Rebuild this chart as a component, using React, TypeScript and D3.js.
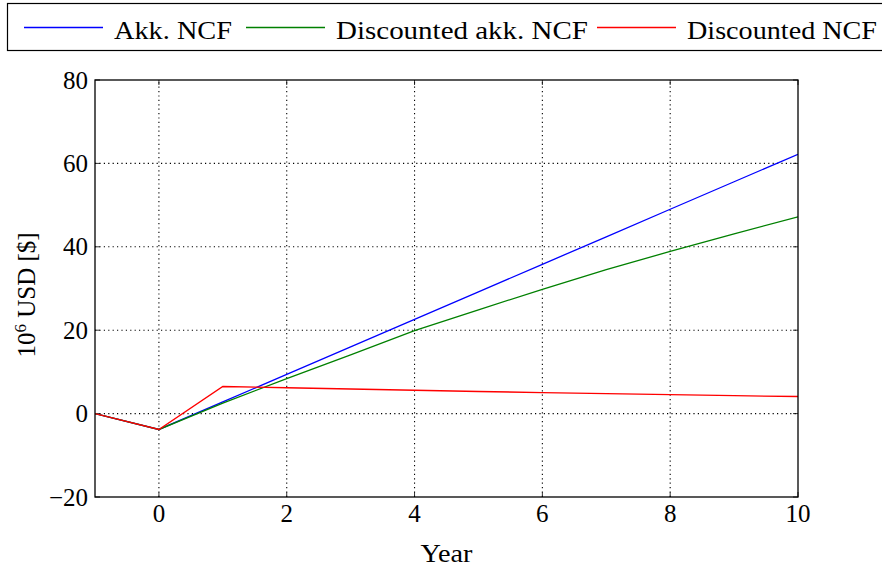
import React from "react";
import * as d3 from "d3";

const years = [-1, 0, 1, 2, 3, 4, 5, 6, 7, 8, 9, 10];
const akkNcf = [0, -3.8, 2.8, 9.4, 16.0, 22.6, 29.2, 35.8, 42.4, 49.0, 55.6, 62.2];
const discAkkNcf = [0, -3.8, 2.5, 8.4, 14.1, 19.9, 24.9, 29.8, 34.5, 38.9, 43.1, 47.2];
const discNcf = [0, -3.8, 6.5, 6.2, 5.9, 5.6, 5.3, 5.05, 4.8, 4.55, 4.3, 4.1];

const xTicks = [0, 2, 4, 6, 8, 10];
const yTicks = [-20, 0, 20, 40, 60, 80];

const series = [
  { name: "Akk. NCF", values: akkNcf, color: "#0000ff" },
  { name: "Discounted akk. NCF", values: discAkkNcf, color: "#008000" },
  { name: "Discounted NCF", values: discNcf, color: "#ff0000" },
];

const W = 882;
const H = 568;
const m = { left: 95, right: 84, top: 80, bottom: 71 };
const font = "'Liberation Serif', serif";
const fs = 25;

// legend layout: line start, text start, text width (CM is wider than Times)
const legendPos = [
  { lx: 24, tx: 114, tw: 118 },
  { lx: 246, tx: 336, tw: 252 },
  { lx: 597, tx: 687, tw: 190 },
];

const App = () => {
  const x = d3.scaleLinear().domain([-1, 10]).range([m.left, W - m.right]);
  const y = d3.scaleLinear().domain([-20, 80]).range([H - m.bottom, m.top]);
  const line = d3
    .line<number>()
    .x((_, i) => x(years[i]))
    .y((d) => y(d));

  const x0 = x(-1), x1 = x(10), y0 = y(-20), y1 = y(80);

  return (
    <svg
      width={W}
      height={H}
      style={{ position: "absolute", left: 0, top: 0, background: "#fff" }}
      fontFamily={font}
    >
      {/* grid */}
      {xTicks.filter((t) => t < 10).map((t) => (
        <line key={"gx" + t} x1={x(t)} x2={x(t)} y1={y0} y2={y1}
          stroke="#000" strokeWidth={1.1} strokeDasharray="1.2 3.2" />
      ))}
      {yTicks.filter((t) => t > -20 && t < 80).map((t) => (
        <line key={"gy" + t} x1={x0} x2={x1} y1={y(t)} y2={y(t)}
          stroke="#000" strokeWidth={1.1} strokeDasharray="1.2 3.2" />
      ))}

      {/* ticks inside */}
      {xTicks.map((t) => (
        <g key={"tx" + t}>
          <line x1={x(t)} x2={x(t)} y1={y0} y2={y0 - 5} stroke="#000" strokeWidth={0.8} />
          <line x1={x(t)} x2={x(t)} y1={y1} y2={y1 + 5} stroke="#000" strokeWidth={0.8} />
          <text x={x(t)} y={y0 + 24.5} fontSize={fs} textAnchor="middle">{t}</text>
        </g>
      ))}
      {yTicks.map((t) => (
        <g key={"ty" + t}>
          <line x1={x0} x2={x0 + 5} y1={y(t)} y2={y(t)} stroke="#000" strokeWidth={0.8} />
          <line x1={x1} x2={x1 - 5} y1={y(t)} y2={y(t)} stroke="#000" strokeWidth={0.8} />
          <text x={x0 - 7} y={y(t) + 8.5} fontSize={fs} textAnchor="end">
            {t < 0 ? "\u2212" + Math.abs(t) : t}
          </text>
        </g>
      ))}

      {/* series */}
      <defs>
        <clipPath id="clip">
          <rect x={x0} y={y1} width={x1 - x0} height={y0 - y1} />
        </clipPath>
      </defs>
      <g clipPath="url(#clip)">
        {series.map((s) => (
          <path key={s.name} d={line(s.values) ?? ""} fill="none"
            stroke={s.color} strokeWidth={1.3} />
        ))}
      </g>

      {/* frame */}
      <rect x={x0} y={y1} width={x1 - x0} height={y0 - y1} fill="none"
        stroke="#000" strokeWidth={1.3} />

      {/* axis labels */}
      <text x={(x0 + x1) / 2} y={562} fontSize={fs} textAnchor="middle"
        textLength={52} lengthAdjust="spacingAndGlyphs">Year</text>
      <text transform={`translate(35,295) rotate(-90)`}
        fontSize={fs} textAnchor="middle">
        10<tspan dy={-9} fontSize={17}>6</tspan>
        <tspan dy={9}> USD [$]</tspan>
      </text>

      {/* legend */}
      <rect x={7.5} y={3.5} width={W + 10} height={47} fill="#fff"
        stroke="#000" strokeWidth={1.2} />
      {series.map((s, i) => (
        <g key={"lg" + i}>
          <line x1={legendPos[i].lx} x2={legendPos[i].lx + 79} y1={27.5} y2={27.5}
            stroke={s.color} strokeWidth={1.3} />
          <text x={legendPos[i].tx} y={39} fontSize={fs}
            textLength={legendPos[i].tw} lengthAdjust="spacingAndGlyphs">{s.name}</text>
        </g>
      ))}
    </svg>
  );
};

export default App;
